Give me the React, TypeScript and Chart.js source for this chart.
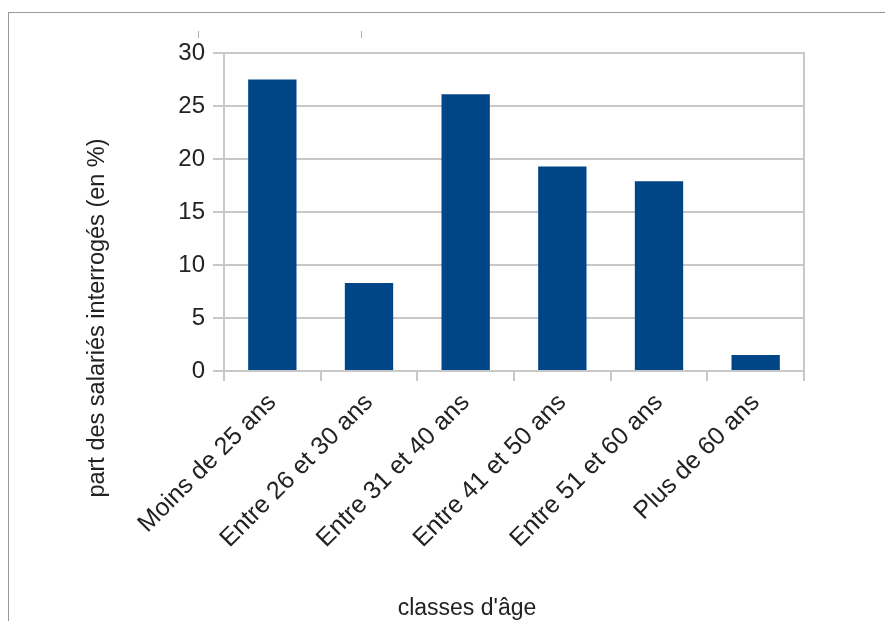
import React, { useEffect, useRef } from 'react';
import { Chart, registerables } from 'chart.js';

Chart.register(...registerables);

const categories = [
  'Moins de 25 ans',
  'Entre 26 et 30 ans',
  'Entre 31 et 40 ans',
  'Entre 41 et 50 ans',
  'Entre 51 et 60 ans',
  'Plus de 60 ans',
];
const shares = [27.5, 8.3, 26.1, 19.3, 17.9, 1.5];
const yMin = 0;
const yMax = 30;
const yStep = 5;
const xTitle = "classes d'âge";
const yTitle = 'part des salariés interrogés (en %)';

const FAMILY = '"Liberation Sans", Arial, Helvetica, sans-serif';
const GRID = '#c8c8c8';
const TEXT = '#222222';
const BAR = '#004586';

const extras = {
  id: 'extras',
  afterDraw(chart: any) {
    const { ctx, chartArea } = chart;
    ctx.save();
    // right edge of plot frame
    ctx.strokeStyle = GRID;
    ctx.lineWidth = 2;
    ctx.beginPath();
    ctx.moveTo(chartArea.right, chartArea.top - 1);
    ctx.lineTo(chartArea.right, chartArea.bottom);
    ctx.stroke();
    // axis titles
    ctx.fillStyle = TEXT;
    ctx.font = `23px ${FAMILY}`;
    ctx.textAlign = 'center';
    ctx.textBaseline = 'alphabetic';
    ctx.fillText(xTitle, 467, 615);
    ctx.translate(98, 318);
    ctx.rotate(-Math.PI / 2);
    ctx.textBaseline = 'middle';
    ctx.font = `23.5px ${FAMILY}`;
    ctx.fillText(yTitle, 0, 0);
    ctx.restore();
  },
};

export default function App() {
  const ref = useRef<HTMLCanvasElement | null>(null);

  useEffect(() => {
    if (!ref.current) return;
    const chart = new Chart(ref.current, {
      type: 'bar',
      data: {
        labels: categories,
        datasets: [
          {
            data: shares,
            backgroundColor: BAR,
            borderWidth: 0,
            barPercentage: 0.5,
            categoryPercentage: 1.0,
          },
        ],
      },
      options: {
        animation: false,
        responsive: false,
        devicePixelRatio: 1,
        layout: { padding: { left: 79, right: 81, top: 53, bottom: 0 } },
        plugins: {
          legend: { display: false },
          tooltip: { enabled: false },
          title: { display: false },
        },
        scales: {
          x: {
            offset: true,
            grid: {
              offset: true,
              drawOnChartArea: false,
              drawTicks: true,
              tickLength: 10,
              color: GRID,
              lineWidth: 2,
            },
            border: { display: true, color: GRID, width: 2 },
            ticks: {
              autoSkip: false,
              minRotation: 45,
              maxRotation: 45,
              color: TEXT,
              padding: 7,
              font: { size: 25, family: FAMILY },
            },
            afterFit(scale: any) {
              scale.height = 621 - 371;
            },
          },
          y: {
            min: yMin,
            max: yMax,
            ticks: {
              stepSize: yStep,
              color: TEXT,
              padding: 8,
              font: { size: 24, family: FAMILY },
            },
            grid: {
              color: GRID,
              lineWidth: 2,
              tickLength: 11,
              drawTicks: true,
            },
            border: { display: true, color: GRID, width: 2 },
            afterFit(scale: any) {
              scale.width = 224 - 79;
            },
          },
        },
      },
      plugins: [extras],
    });
    return () => chart.destroy();
  }, []);

  return (
    <div
      style={{
        position: 'absolute',
        left: 0,
        top: 0,
        width: 885,
        height: 621,
        background: '#ffffff',
        overflow: 'hidden',
      }}
    >
      <div
        style={{
          position: 'absolute',
          left: 8,
          top: 12,
          width: 877,
          height: 609,
          borderTop: '1px solid #9a9a9a',
          borderLeft: '1px solid #9a9a9a',
          boxSizing: 'border-box',
        }}
      />
      <div style={{ position: 'absolute', left: 198, top: 31, width: 1, height: 7, background: '#b0b0b0' }} />
      <div style={{ position: 'absolute', left: 361, top: 31, width: 1, height: 7, background: '#b0b0b0' }} />
      <canvas
        ref={ref}
        width={885}
        height={621}
        style={{ position: 'absolute', left: 0, top: 0, width: 885, height: 621 }}
      />
    </div>
  );
}
